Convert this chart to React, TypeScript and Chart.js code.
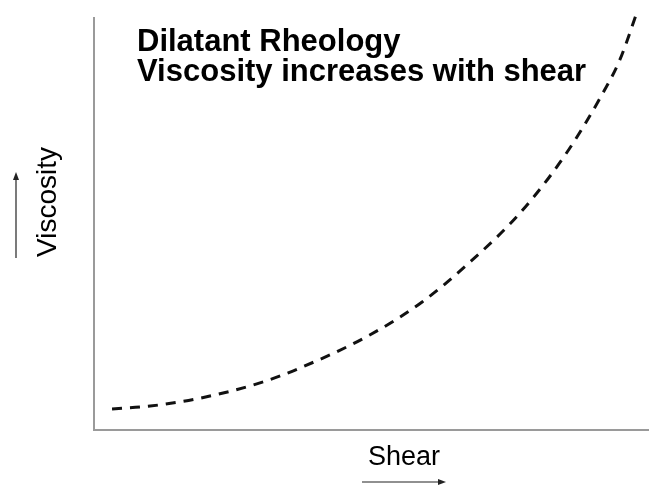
import React, { useEffect, useRef } from "react";
import { Chart, registerables } from "chart.js";

Chart.register(...registerables);

// Shear (x) and viscosity (y), in relative units 0–100
const shear = [3.3, 10.3, 19.4, 30.4, 37.7, 50.5, 60.1, 68.9, 78.0, 86.3, 93.0, 96.3, 99.6];
const viscosity = [5.1, 5.8, 7.7, 11.4, 15.0, 23.0, 31.0, 40.7, 52.5, 66.6, 81.1, 89.6, 101.7];

const titleLines = ["Dilatant Rheology", "Viscosity increases with shear"];
const xLabel = "Shear";
const yLabel = "Viscosity";

const FONT = '"Liberation Sans", Arial, Helvetica, sans-serif';

const decorPlugin = {
  id: "decor",
  beforeDatasetsDraw(chart: any) {
    const { ctx, chartArea } = chart;
    ctx.save();
    ctx.strokeStyle = "#9a9a9a";
    ctx.lineWidth = 2;
    ctx.beginPath();
    ctx.moveTo(chartArea.left, chartArea.top);
    ctx.lineTo(chartArea.left, chartArea.bottom);
    ctx.lineTo(chart.width, chartArea.bottom);
    ctx.stroke();
    ctx.restore();
  },
  afterDraw(chart: any) {
    const { ctx, chartArea } = chart;
    ctx.save();
    ctx.fillStyle = "#000";
    // Title
    ctx.font = `bold 31px ${FONT}`;
    ctx.textAlign = "left";
    ctx.textBaseline = "middle";
    titleLines.forEach((t, i) => ctx.fillText(t, chartArea.left + 43, 42 + i * 30));
    // X label
    ctx.font = `27px ${FONT}`;
    ctx.textAlign = "center";
    ctx.fillText(xLabel, 404, 458);
    // Y label
    ctx.save();
    ctx.translate(48, 202);
    ctx.rotate(-Math.PI / 2);
    ctx.font = `28px ${FONT}`;
    ctx.fillText(yLabel, 0, 0);
    ctx.restore();
    // Arrows
    ctx.strokeStyle = "#222";
    ctx.fillStyle = "#222";
    ctx.lineWidth = 1.2;
    ctx.beginPath();
    ctx.moveTo(362, 482);
    ctx.lineTo(440, 482);
    ctx.stroke();
    ctx.beginPath();
    ctx.moveTo(446, 482);
    ctx.lineTo(438, 479);
    ctx.lineTo(438, 485);
    ctx.closePath();
    ctx.fill();
    ctx.beginPath();
    ctx.moveTo(16, 258);
    ctx.lineTo(16, 178);
    ctx.stroke();
    ctx.beginPath();
    ctx.moveTo(16, 172);
    ctx.lineTo(13, 180);
    ctx.lineTo(19, 180);
    ctx.closePath();
    ctx.fill();
    ctx.restore();
  },
};

export default function App() {
  const ref = useRef<HTMLCanvasElement>(null);
  useEffect(() => {
    if (!ref.current) return;
    const chart = new Chart(ref.current, {
      type: "line",
      data: {
        datasets: [
          {
            label: "Dilatant",
            data: shear.map((x, i) => ({ x, y: viscosity[i] })),
            borderColor: "#111",
            borderWidth: 3,
            borderDash: [10, 8],
            pointRadius: 0,
            cubicInterpolationMode: "monotone",
            fill: false,
            clip: false as any,
          },
        ],
      },
      plugins: [decorPlugin],
      options: {
        responsive: false,
        animation: false,
        layout: { padding: { left: 94, right: 9, top: 17, bottom: 59 } },
        plugins: { legend: { display: false }, title: { display: false }, tooltip: { enabled: false } },
        scales: {
          x: { type: "linear", min: 0, max: 100, display: false },
          y: { type: "linear", min: 0, max: 100, display: false },
        },
      },
    });
    return () => chart.destroy();
  }, []);
  return (
    <div style={{ position: "absolute", left: 0, top: 0, width: 649, height: 489, background: "#fff" }}>
      <canvas ref={ref} width={649} height={489} />
    </div>
  );
}
